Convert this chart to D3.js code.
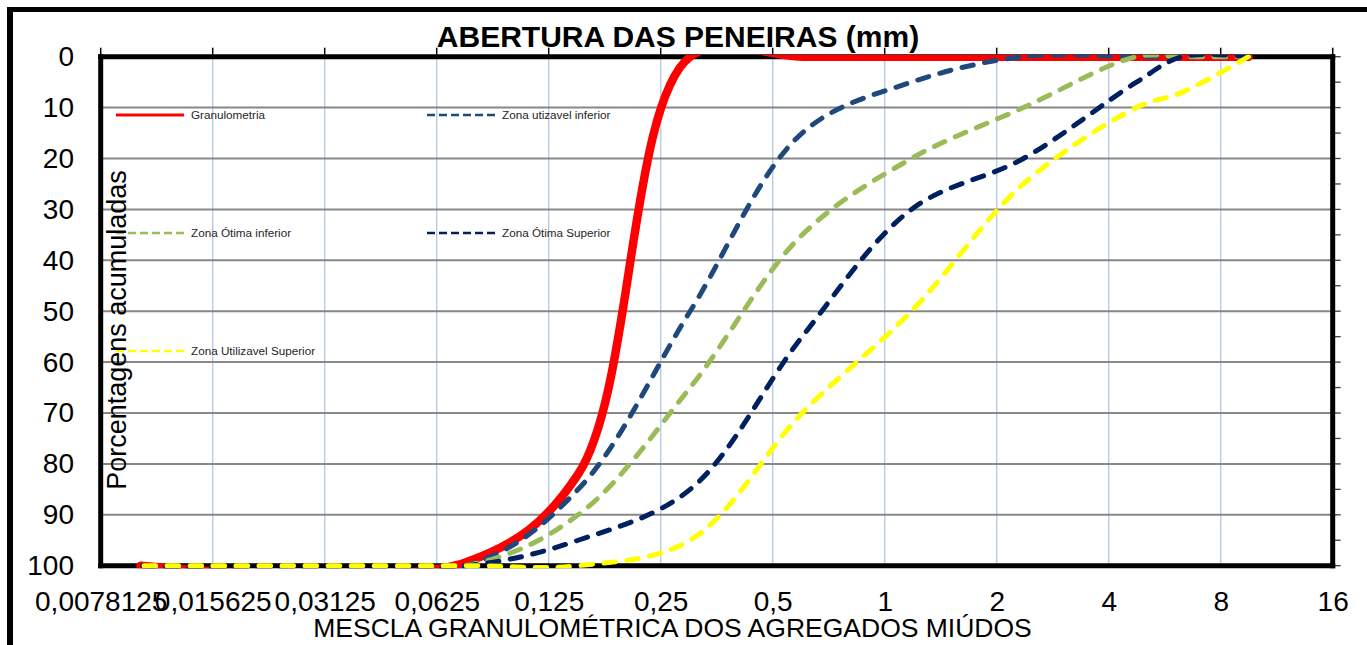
<!DOCTYPE html>
<html><head><meta charset="utf-8">
<script src="https://cdn.jsdelivr.net/npm/d3@7"></script>
<style>
body{margin:0;background:#fff;}
svg{display:block;font-family:"Liberation Sans",Arial,sans-serif;}
</style>
</head><body>
<svg id="chart" width="1367" height="645"></svg>
<script>
// ---- data (sieve opening in mm, cumulative % retained) ----
const sieves = [9.5, 6.3, 4.75, 2.36, 1.18, 0.6, 0.3, 0.15, 0.075, 0.01];
const granulometria      = [0, 0, 0, 0, 0, 0, 0, 82, 99.3, 100];
const zonaUtilInferior   = [0, 0, 0, 0, 5, 15, 50, 85, 100, 100];
const zonaOtimaInferior  = [0, 0, 0, 10, 20, 35, 65, 90, 100, 100];
const zonaOtimaSuperior  = [0, 0, 5, 20, 30, 55, 85, 95, 100, 100];
const zonaUtilSuperior   = [0, 7, 10, 25, 50, 70, 95, 100, 100, 100];
const seriesNames = ["Granulometria", "Zona utizavel inferior", "Zona Ótima inferior", "Zona Ótima Superior", "Zona Utilizavel Superior"];
const xTicks = [0.0078125, 0.015625, 0.03125, 0.0625, 0.125, 0.25, 0.5, 1, 2, 4, 8, 16];
const xTickLabels = ["0,0078125", "0,015625", "0,03125", "0,0625", "0,125", "0,25", "0,5", "1", "2", "4", "8", "16"];
const yTicks = [0, 10, 20, 30, 40, 50, 60, 70, 80, 90, 100];
const yMinorTicks = [0, 5, 10, 15, 20, 25, 30, 35, 40, 45, 50, 55, 60, 65, 70, 75, 80, 85, 90, 95, 100];

// ---- styles ----
const styles = [
  {color: "#FF0000", width: 8.5, dash: null},
  {color: "#1F497D", width: 5, dash: "11.5,11.5"},
  {color: "#9BBB59", width: 5, dash: "11.5,11.5"},
  {color: "#002060", width: 5, dash: "11.5,11.5"},
  {color: "#FFFF00", width: 5, dash: "11.5,11.5"}
];
const allSeries = [granulometria, zonaUtilInferior, zonaOtimaInferior, zonaOtimaSuperior, zonaUtilSuperior];

const svg = d3.select("#chart");
const L = 100.7, R = 1332.7, T = 56.7, B = 565.7;
const x = d3.scaleLog().base(2).domain([0.0078125, 16]).range([L, R]);
const y = d3.scaleLinear().domain([0, 100]).range([T, B]);

// outer frame
svg.append("line").attr("x1", 7).attr("x2", 1367).attr("y1", 9.5).attr("y2", 9.5)
  .attr("stroke", "#000").attr("stroke-width", 5);
svg.append("line").attr("x1", 10).attr("x2", 10).attr("y1", 7).attr("y2", 645)
  .attr("stroke", "#000").attr("stroke-width", 6);

// gridlines
svg.append("g").selectAll("line").data(xTicks).join("line")
  .attr("x1", d => x(d)).attr("x2", d => x(d)).attr("y1", T).attr("y2", B)
  .attr("stroke", "#B9CDE5").attr("stroke-width", 1.5);
svg.append("g").selectAll("line").data(yTicks).join("line")
  .attr("x1", L).attr("x2", R).attr("y1", d => y(d)).attr("y2", d => y(d))
  .attr("stroke", "#878787").attr("stroke-width", 2);

// top tick marks
svg.append("g").selectAll("line").data(xTicks).join("line")
  .attr("x1", d => x(d)).attr("x2", d => x(d)).attr("y1", T - 9).attr("y2", T)
  .attr("stroke", "#000").attr("stroke-width", 1.5);
// right tick marks
svg.append("g").selectAll("line").data(yMinorTicks).join("line")
  .attr("x1", R).attr("x2", R + 8).attr("y1", d => y(d)).attr("y2", d => y(d))
  .attr("stroke", "#404040").attr("stroke-width", 1.3);

// axis frame lines
const frame = svg.append("g").attr("stroke", "#000").attr("stroke-width", 5).attr("stroke-linecap", "square");
frame.append("line").attr("x1", L).attr("x2", R).attr("y1", T).attr("y2", T);
frame.append("line").attr("x1", L).attr("x2", R).attr("y1", B).attr("y2", B);
frame.append("line").attr("x1", L).attr("x2", L).attr("y1", T).attr("y2", B);
frame.append("line").attr("x1", R).attr("x2", R).attr("y1", T).attr("y2", B);

// clip
svg.append("clipPath").attr("id", "plotClip").append("rect")
  .attr("x", L - 2).attr("y", T - 2).attr("width", R - L + 4).attr("height", B - T + 4.5);

// series
const line = d3.line().x(d => x(d[0])).y(d => y(d[1])).curve(d3.curveCatmullRom.alpha(0.5));
const gSeries = svg.append("g").attr("clip-path", "url(#plotClip)");
allSeries.forEach((vals, i) => {
  const pts = sieves.map((s, j) => [s, vals[j]]);
  const p = gSeries.append("path").datum(pts).attr("d", line)
    .attr("fill", "none").attr("stroke", styles[i].color).attr("stroke-width", styles[i].width)
    .attr("stroke-linecap", "round").attr("stroke-linejoin", "round");
  if (styles[i].dash) p.attr("stroke-dasharray", styles[i].dash);
});

// axes labels via d3 axes
const xAxis = d3.axisBottom(x).tickValues(xTicks).tickFormat((d, i) => xTickLabels[i]).tickSize(0).tickPadding(25.8);
const gx = svg.append("g").attr("transform", `translate(0,${B})`).call(xAxis);
gx.select(".domain").remove();
gx.selectAll("text").attr("font-size", 28).attr("fill", "#000").attr("font-family", '"Liberation Sans",Arial,sans-serif');

const yAxis = d3.axisLeft(y).tickValues(yTicks).tickFormat(d => String(d)).tickSize(0).tickPadding(26.7);
const gy = svg.append("g").attr("transform", `translate(${L},0)`).call(yAxis);
gy.select(".domain").remove();
gy.selectAll("text").attr("font-size", 28).attr("fill", "#000").attr("font-family", '"Liberation Sans",Arial,sans-serif');

// legend
const legendPos = [[116, 115], [427, 115], [116, 233], [427, 233], [116, 351]];
const gLeg = svg.append("g");
seriesNames.forEach((name, i) => {
  const [lx, ly] = legendPos[i];
  const l = gLeg.append("line").attr("x1", lx).attr("x2", lx + 68).attr("y1", ly).attr("y2", ly)
    .attr("stroke", styles[i].color).attr("stroke-width", i === 0 ? 3 : 2.6);
  if (styles[i].dash) l.attr("stroke-dasharray", "8,4");
  gLeg.append("text").attr("x", lx + 75).attr("y", ly + 4.3).attr("font-size", 11.7)
    .attr("fill", "#262626").text(name);
});

// titles
svg.append("text").attr("x", 678).attr("y", 46.7).attr("text-anchor", "middle")
  .attr("font-size", 30).attr("font-weight", "bold").attr("fill", "#000").text("ABERTURA DAS PENEIRAS (mm)");
svg.append("text").attr("x", 672.5).attr("y", 637).attr("text-anchor", "middle")
  .attr("font-size", 26.5).attr("fill", "#000").text("MESCLA GRANULOMÉTRICA DOS AGREGADOS MIÚDOS");
svg.append("text").attr("transform", "translate(125.5,330) rotate(-90)").attr("text-anchor", "middle")
  .attr("font-size", 27).attr("fill", "#000").text("Porcentagens acumuladas");
</script>
</body></html>
